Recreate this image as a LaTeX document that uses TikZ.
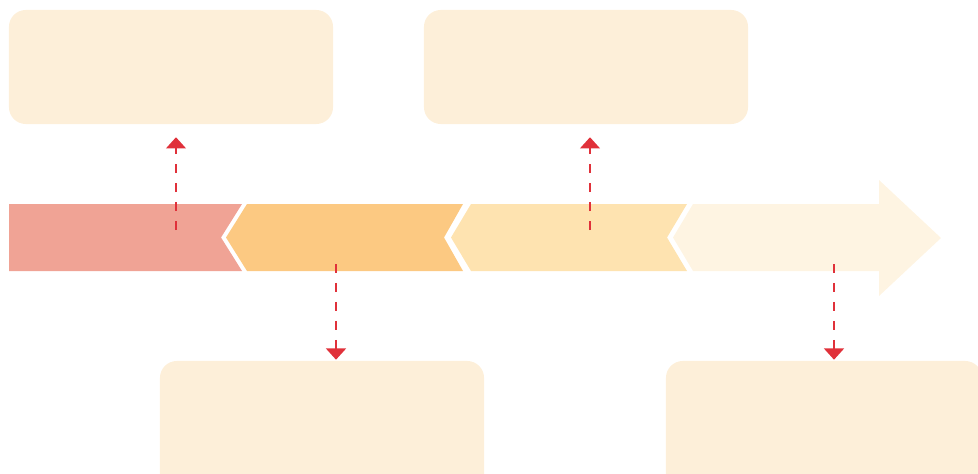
\documentclass[tikz,border=0pt]{standalone}
\usetikzlibrary{arrows.meta, positioning}
\definecolor{stageone}{HTML}{F0A395}
\definecolor{stagetwo}{HTML}{FCC982}
\definecolor{stagethree}{HTML}{FEE3B0}
\definecolor{stagefour}{HTML}{FEF4E2}
\definecolor{notefill}{HTML}{FDEFD9}
\definecolor{markred}{HTML}{E0313A}

\begin{document}
\begin{tikzpicture}[x=0.025cm, y=-0.025cm,
  note/.style={fill=notefill, rounded corners=12pt, minimum width=8.1cm, minimum height=2.85cm, inner sep=0pt},
  link/.style={draw=markred, line width=1.7pt, dash pattern=on 6.4pt off 7.1pt, -{Triangle[width=14pt,length=8pt]}}]
 \useasboundingbox (0,0) rectangle (978,473);
 \clip (0,0) rectangle (978,473);
 % timeline band
 \fill[stageone] (9,204) -- (242,204) -- (221,237.5) -- (242,271) -- (9,271) -- cycle;
 \fill[stagetwo] (247,204) -- (463,204) -- (444,237.5) -- (463,271) -- (247,271) -- (226,237.5) -- cycle;
 \fill[stagethree] (471,204) -- (687,204) -- (667,237.5) -- (687,271) -- (471,271) -- (451,237.5) -- cycle;
 \fill[stagefour] (693,204) -- (879,204) -- (879,180) -- (941,238) -- (879,296) -- (879,271) -- (693,271) -- (673,237.5) -- cycle;
 % note boxes
 \node[note] (n1) at (171,67){};
 \node[note] (n2) at (586,67){};
 \node[note, minimum height=3.4cm] (n3) at (322,429){};
 \node[note, minimum width=7.9cm, minimum height=3.4cm] (n4) at (824,429){};
 % markers
 \coordinate (p1) at (176,230);
 \coordinate (p2) at (336,264);
 \coordinate (p3) at (590,230);
 \coordinate (p4) at (834,264);
 \draw[link, shorten >=9.2pt] (p1) -- (p1 |- n1.south);
 \draw[link, shorten >=0.7pt] (p2) -- (p2 |- n3.north);
 \draw[link, shorten >=9.2pt] (p3) -- (p3 |- n2.south);
 \draw[link, shorten >=0.7pt] (p4) -- (p4 |- n4.north);
\end{tikzpicture}
\end{document}
